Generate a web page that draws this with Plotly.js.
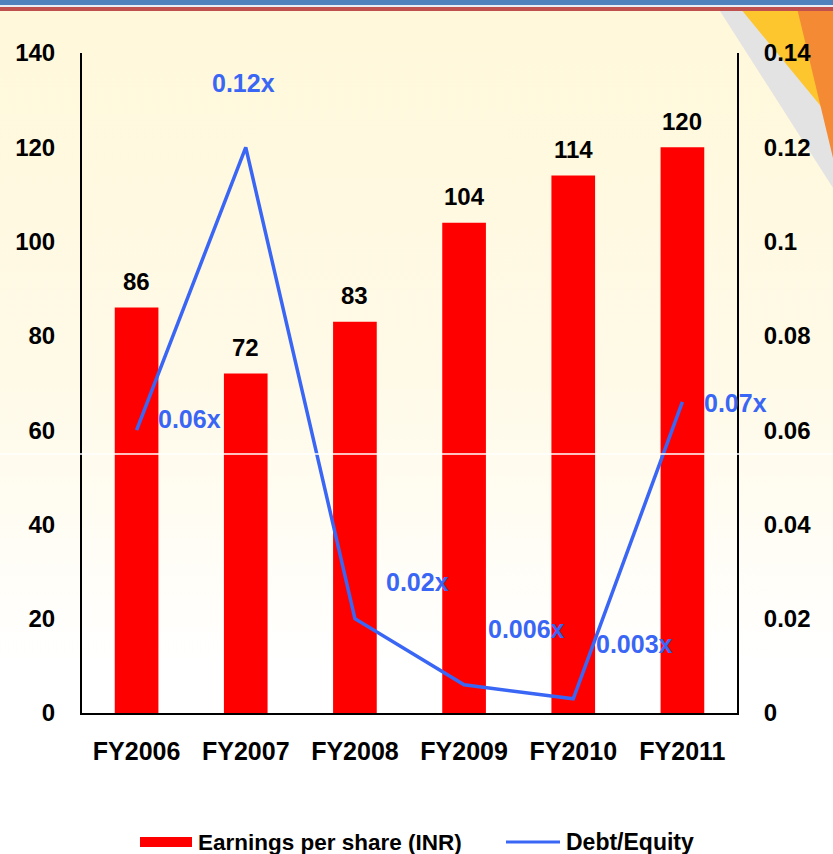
<!DOCTYPE html>
<html><head><meta charset="utf-8">
<script src="https://cdn.plot.ly/plotly-3.0.1.min.js"></script>
<style>
html,body{margin:0;padding:0;}
body{width:833px;height:854px;overflow:hidden;background:linear-gradient(to bottom,#FFF8DA 0%,#FFFAE8 45%,#FFFFFF 78%,#FFFFFF 100%);}
#chart{width:833px;height:854px;}
</style></head><body><div id="chart"></div>
<script>
// ---- data ----
const years = ['FY2006','FY2007','FY2008','FY2009','FY2010','FY2011'];
const eps = [86, 72, 83, 104, 114, 120];
const debtEquity = [0.06, 0.12, 0.02, 0.006, 0.003, 0.066];
const deLabels = ['0.06x','0.12x','0.02x','0.006x','0.003x','0.07x'];
const epsName = 'Earnings per share (INR)';
const deName = 'Debt/Equity';

// ---- style ----
const RED = '#FF0000', BLUE = '#3A66F5';
const FONT = 'Arial, "Liberation Sans", sans-serif';
const W = 833, H = 854, L = 82, R = 96, T = 53, B = 141;
const PW = W - L - R, PH = H - T - B;
const px = x => (x - L) / PW;
const py = y => (H - B - y) / PH;
// label offsets (pixels) for the debt/equity labels
const deShift = [[53, 11], [-2, 64], [63, 37], [62, 56], [61, 55], [53, -1]];

const traces = [
  {type:'bar', x: years, y: eps, name: epsName, marker:{color: RED}, yaxis:'y', hoverinfo:'skip'},
  {type:'scatter', mode:'lines', x: years, y: debtEquity, name: deName, yaxis:'y2',
   line:{color: BLUE, width: 3.5}, hoverinfo:'skip'}
];

const annotations = [];
years.forEach((yr, i) => {
  annotations.push({x: yr, y: eps[i], xref:'x', yref:'y', text: String(eps[i]), showarrow:false,
    yanchor:'middle', xanchor:'center', yshift: 26,
    font:{family: FONT, size: 24, color:'#000', weight:'bold'}});
  annotations.push({x: yr, y: debtEquity[i], xref:'x', yref:'y2', text: deLabels[i], showarrow:false,
    yanchor:'middle', xanchor:'center', xshift: deShift[i][0], yshift: deShift[i][1],
    font:{family: FONT, size: 25, color: BLUE, weight:'bold'}});
});
// custom legend text
annotations.push({xref:'paper', yref:'paper', x: px(196), y: py(842), xanchor:'left', yanchor:'middle',
  text: epsName, showarrow:false, font:{family: FONT, size: 22.5, color:'#000', weight:'bold'}});
annotations.push({xref:'paper', yref:'paper', x: px(564), y: py(842), xanchor:'left', yanchor:'middle',
  text: deName, showarrow:false, font:{family: FONT, size: 23, color:'#000', weight:'bold'}});

const poly = pts => 'M' + pts.map(p => px(p[0]) + ',' + py(p[1])).join('L') + 'Z';
const shapes = [
  // slide decorations
  {type:'path', xref:'paper', yref:'paper', path: poly([[718,8],[833,8],[833,188]]), fillcolor:'#E3E3E3', line:{width:0}, layer:'below'},
  {type:'path', xref:'paper', yref:'paper', path: poly([[740,8],[833,8],[833,121]]), fillcolor:'#FDC52E', line:{width:0}, layer:'below'},
  {type:'path', xref:'paper', yref:'paper', path: poly([[797,8],[833,8],[833,158]]), fillcolor:'#F58A35', line:{width:0}, layer:'below'},
  {type:'rect', xref:'paper', yref:'paper', x0: px(0), x1: px(833), y0: py(5), y1: py(0), fillcolor:'#4F81BD', line:{width:0}, layer:'below'},
  {type:'rect', xref:'paper', yref:'paper', x0: px(0), x1: px(833), y0: py(7), y1: py(5), fillcolor:'#E8ECF4', line:{width:0}, layer:'below'},
  {type:'rect', xref:'paper', yref:'paper', x0: px(0), x1: px(833), y0: py(11), y1: py(7), fillcolor:'#C0504D', line:{width:0}, layer:'below'},
  // thin white line across slide
  {type:'line', xref:'paper', yref:'paper', x0: px(0), x1: px(833), y0: py(454), y1: py(454), line:{color:'#FFFFFF', width:1.5}, layer:'above'},
  // legend symbols
  {type:'rect', xref:'paper', yref:'paper', x0: px(140), x1: px(192), y0: py(847), y1: py(837), fillcolor: RED, line:{width:0}},
  {type:'line', xref:'paper', yref:'paper', x0: px(506), x1: px(560), y0: py(842), y1: py(842), line:{color: BLUE, width: 3}}
];

const tickFont = {family: FONT, size: 24, color:'#000', weight:'bold'};
const layout = {
  width: W, height: H,
  margin: {l: L, r: R, t: T, b: B, pad: 0},
  paper_bgcolor: 'rgba(0,0,0,0)', plot_bgcolor: 'rgba(0,0,0,0)',
  showlegend: false,
  bargap: 0.6,
  xaxis: {type:'category', range:[-0.5, 5.5], autorange:false, showline:true, linecolor:'#000', linewidth:2, ticks:'', showgrid:false,
    tickfont:{family: FONT, size: 25, color:'#000', weight:'bold'}, ticklabelstandoff: 15, zeroline:false},
  yaxis: {range:[0,140], dtick:20, showline:true, linecolor:'#000', linewidth:2, ticks:'', showgrid:false,
    zeroline:false, tickfont: tickFont, ticklabelstandoff: 20},
  yaxis2: {range:[0,0.14], dtick:0.02, overlaying:'y', side:'right', showline:true, linecolor:'#000', linewidth:2,
    ticks:'', showgrid:false, zeroline:false, tickfont: tickFont, ticklabelstandoff: 20},
  annotations, shapes
};
Plotly.newPlot('chart', traces, layout, {displayModeBar:false, staticPlot:true});
</script></body></html>
